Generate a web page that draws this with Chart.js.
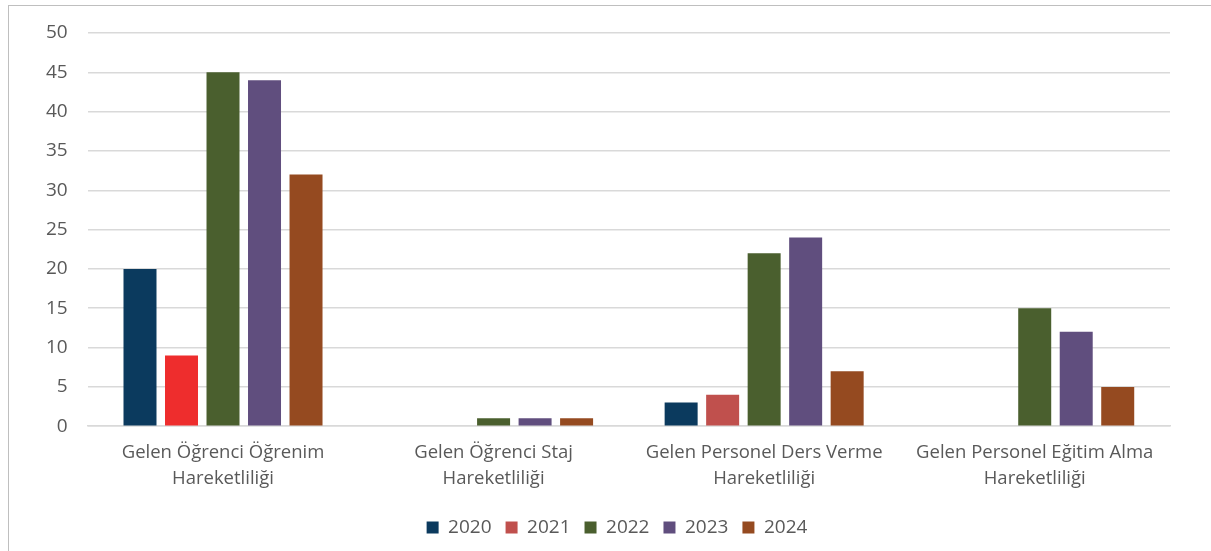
<!DOCTYPE html>
<html>
<head>
<meta charset="utf-8">
<script src="https://cdn.jsdelivr.net/npm/chart.js@4"></script>
<style>
  html, body { margin: 0; padding: 0; background: #ffffff; overflow: hidden; }
  #frame {
    position: absolute; left: 8px; top: 5px; width: 1230px; height: 570px;
    border: 1px solid #bfbfbf; box-sizing: border-box;
  }
  #wrap { position: absolute; left: 0; top: 0; width: 1211px; height: 551px; }
</style>
</head>
<body>
<div id="frame"></div>
<div id="wrap"><canvas id="chart"></canvas></div>
<script>
// Categories (two-line labels) and yearly series
const categories = [
    ['Gelen Öğrenci Öğrenim', 'Hareketliliği'],
    ['Gelen Öğrenci Staj', 'Hareketliliği'],
    ['Gelen Personel Ders Verme', 'Hareketliliği'],
    ['Gelen Personel Eğitim Alma', 'Hareketliliği']
];
const years = ['2020', '2021', '2022', '2023', '2024'];
const values2020 = [20, 0, 3, 0];
const values2021 = [9, 0, 4, 0];
const values2022 = [45, 1, 22, 15];
const values2023 = [44, 1, 24, 12];
const values2024 = [32, 1, 7, 5];
const yTicks = [0, 5, 10, 15, 20, 25, 30, 35, 40, 45, 50];

const yearColors = ['#0b3a5e', '#c0504d', '#4a5f2e', '#604e7e', '#954a20'];
// first 2021 bar is drawn in a brighter red in the original
const colors2021 = ['#ee2d2d', '#c0504d', '#c0504d', '#c0504d'];

const fontFamily = '"Open Sans", Lato, sans-serif';
const textColor = '#595959';

const seriesValues = [values2020, values2021, values2022, values2023, values2024];

// nudge the legend so it sits centred under the frame like the original
const legendShift = {
    id: 'legendShift',
    afterLayout: function(chart) {
        const lg = chart.legend;
        lg.left += 19; lg.right += 19;
        lg.top += 6; lg.bottom += 6;
    }
};

new Chart(document.getElementById('chart'), {
    type: 'bar',
    data: {
        labels: categories,
        datasets: years.map(function(year, i) {
            return {
                label: year,
                data: seriesValues[i],
                backgroundColor: i === 1 ? colors2021 : yearColors[i],
                borderWidth: 0,
                categoryPercentage: 0.767,
                barPercentage: 0.795
            };
        })
    },
    options: {
        responsive: true,
        maintainAspectRatio: false,
        animation: false,
        layout: { padding: { left: 26, right: 41, top: 33, bottom: 10 } },
        plugins: {
            legend: {
                position: 'bottom',
                labels: {
                    color: textColor,
                    font: { family: fontFamily, size: 19 },
                    boxWidth: 12,
                    boxHeight: 12,
                    padding: 14,
                    generateLabels: function() {
                        return years.map(function(year, i) {
                            return {
                                text: year,
                                fillStyle: yearColors[i],
                                strokeStyle: yearColors[i],
                                lineWidth: 0,
                                datasetIndex: i,
                                fontColor: textColor
                            };
                        });
                    }
                }
            },
            tooltip: { enabled: false }
        },
        scales: {
            x: {
                grid: { display: false },
                border: { display: true, color: '#d9d9d9', width: 1.5 },
                ticks: {
                    color: textColor,
                    font: { family: fontFamily, size: 18.5, lineHeight: 1.4 },
                    maxRotation: 0,
                    padding: 6
                }
            },
            y: {
                min: 0,
                max: 50,
                afterBuildTicks: function(axis) {
                    axis.ticks = yTicks.map(function(v) { return { value: v }; });
                },
                grid: { color: '#d9d9d9', lineWidth: 1.5, drawTicks: false },
                border: { display: false },
                ticks: {
                    color: textColor,
                    font: { family: fontFamily, size: 19 },
                    padding: 20
                }
            }
        }
    },
    plugins: [legendShift]
});
</script>
</body>
</html>
